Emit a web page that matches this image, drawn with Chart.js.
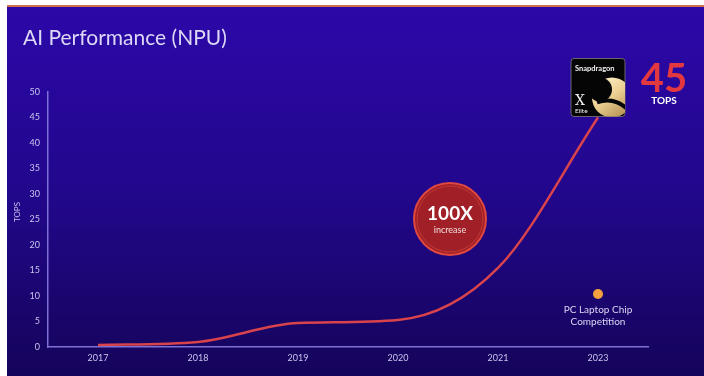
<!DOCTYPE html>
<html>
<head>
<meta charset="utf-8">
<script src="https://cdn.jsdelivr.net/npm/chart.js@4.4.1/dist/chart.umd.min.js"></script>
<style>
  html, body { margin: 0; padding: 0; background: #fff; }
  canvas { display: block; }
</style>
</head>
<body>
<canvas id="chart" width="704" height="376"></canvas>
<script>
const years = ['2017', '2018', '2019', '2020', '2021', '2023'];
const snapdragonTops = [0.4, 1, 4.7, 5.3, 15.5, 45];
const competitionTops = [null, null, null, null, null, 10.4];

const font = 'Lato, "Open Sans", sans-serif';
const tickColor = '#cbc4ee';
const axisColor = '#7d70d6';
const lineRed = '#d8434c';

// white page edge, orange rule and the blue slide behind the chart
const slideBackground = {
  id: 'slideBackground',
  beforeDraw(chart) {
    const { ctx, width, height } = chart;
    ctx.save();
    ctx.fillStyle = '#ffffff';
    ctx.fillRect(0, 0, width, height);
    const grad = ctx.createLinearGradient(0, 7, 0, height);
    grad.addColorStop(0, '#2c08a8');
    grad.addColorStop(0.5, '#22078c');
    grad.addColorStop(1, '#15045a');
    ctx.fillStyle = grad;
    ctx.fillRect(7, 7, width - 7, height - 7);
    ctx.fillStyle = '#d46f4e';
    ctx.fillRect(7, 5, width - 7, 2);
    ctx.restore();
  }
};

const decorations = {
  id: 'decorations',
  afterDatasetsDraw(chart) {
    const { ctx, scales: { x, y } } = chart;
    ctx.save();

    // title
    ctx.fillStyle = '#ddd8f6';
    ctx.font = '21px ' + font;
    ctx.textBaseline = 'alphabetic';
    ctx.fillText('AI Performance (NPU)', 23, 45);

    // y axis title
    ctx.save();
    ctx.translate(17, 212);
    ctx.rotate(-Math.PI / 2);
    ctx.textAlign = 'center';
    ctx.textBaseline = 'middle';
    ctx.font = '8px ' + font;
    ctx.fillStyle = tickColor;
    ctx.fillText('TOPS', 0, 0);
    ctx.restore();

    // 100X badge
    const bx = 450, by = 219;
    ctx.beginPath();
    ctx.arc(bx, by, 36, 0, Math.PI * 2);
    ctx.fillStyle = '#a11f26';
    ctx.fill();
    ctx.lineWidth = 2;
    ctx.strokeStyle = '#e0483f';
    ctx.stroke();
    ctx.beginPath();
    ctx.arc(bx, by, 33, 0, Math.PI * 2);
    ctx.lineWidth = 1;
    ctx.strokeStyle = '#c23a35';
    ctx.stroke();
    ctx.fillStyle = '#ffffff';
    ctx.textAlign = 'center';
    ctx.textBaseline = 'middle';
    ctx.font = 'bold 19px ' + font;
    ctx.fillText('100X', bx, by - 5);
    ctx.font = '9px ' + font;
    ctx.fillStyle = '#f1dede';
    ctx.fillText('increase', bx, by + 11);

    // Snapdragon X Elite chip above the last point
    const cx = x.getPixelForValue(5);
    const cy = y.getPixelForValue(45);
    const left = cx - 27, top = cy - 59, w = 54, h = 58;
    ctx.beginPath();
    ctx.roundRect(left, top, w, h, 3);
    ctx.fillStyle = '#050505';
    ctx.fill();
    ctx.lineWidth = 1;
    ctx.strokeStyle = '#6b6470';
    ctx.stroke();
    ctx.save();
    ctx.beginPath();
    ctx.roundRect(left, top, w, h, 3);
    ctx.clip();
    const gold = ctx.createLinearGradient(left + 26, top + 18, left + 54, top + 58);
    gold.addColorStop(0, '#fff4cc');
    gold.addColorStop(0.5, '#ecd093');
    gold.addColorStop(1, '#b48e50');
    ctx.beginPath();
    ctx.arc(left + 41, top + 39, 20, 0, Math.PI * 2);
    ctx.fillStyle = gold;
    ctx.fill();
    ctx.beginPath();
    ctx.arc(left + 29, top + 31, 12, 0, Math.PI * 2);
    ctx.fillStyle = '#050505';
    ctx.fill();
    ctx.beginPath();
    ctx.moveTo(left + 26, top + 44);
    ctx.quadraticCurveTo(left + 42, top + 38, left + 56, top + 50);
    ctx.lineWidth = 4;
    ctx.strokeStyle = '#050505';
    ctx.stroke();
    ctx.restore();
    ctx.fillStyle = '#f2f2f2';
    ctx.textAlign = 'left';
    ctx.textBaseline = 'alphabetic';
    ctx.font = 'bold 7.5px ' + font;
    ctx.fillText('Snapdragon', left + 4, top + 12);
    ctx.font = '14px "DejaVu Serif", serif';
    ctx.fillText('X', left + 4, top + 46);
    ctx.font = '6.5px ' + font;
    ctx.fillText('Elite', left + 4, top + 54);

    // 45 TOPS
    ctx.textAlign = 'center';
    ctx.fillStyle = '#e3383f';
    ctx.font = 'bold 40px ' + font;
    ctx.fillText('45', 664, 92);
    ctx.fillStyle = '#ffffff';
    ctx.font = 'bold 10px ' + font;
    ctx.fillText('TOPS', 664, 104);

    // competition label under the orange dot
    const px = x.getPixelForValue(5);
    const py = y.getPixelForValue(competitionTops[5]);
    ctx.fillStyle = '#dcd6f4';
    ctx.font = '10px ' + font;
    ctx.textBaseline = 'middle';
    ctx.fillText('PC Laptop Chip', px, py + 16);
    ctx.fillText('Competition', px, py + 28);

    ctx.restore();
  }
};

new Chart(document.getElementById('chart'), {
  type: 'line',
  data: {
    labels: years,
    datasets: [
      {
        label: 'Snapdragon X Elite',
        data: snapdragonTops,
        borderColor: lineRed,
        borderWidth: 2.5,
        pointRadius: 0,
        cubicInterpolationMode: 'monotone',
        order: 2
      },
      {
        label: 'PC Laptop Chip Competition',
        data: competitionTops,
        showLine: false,
        pointRadius: 5,
        pointBackgroundColor: '#f5a23e',
        pointBorderWidth: 0,
        order: 1
      }
    ]
  },
  options: {
    responsive: false,
    devicePixelRatio: 1,
    animation: false,
    layout: { padding: { top: 92, right: 56, bottom: 0, left: 0 } },
    plugins: {
      legend: { display: false },
      tooltip: { enabled: false }
    },
    scales: {
      x: {
        offset: true,
        grid: { display: false, drawTicks: false },
        border: { color: axisColor, width: 1.5 },
        ticks: { color: tickColor, font: { family: font, size: 9 }, padding: 6 },
        afterFit: (s) => { s.height = 29; }
      },
      y: {
        min: 0,
        max: 50,
        grid: { display: false, drawTicks: false },
        border: { color: axisColor, width: 1.5 },
        ticks: { stepSize: 5, color: tickColor, font: { family: font, size: 9 }, padding: 8 },
        afterFit: (s) => { s.width = 48; }
      }
    }
  },
  plugins: [slideBackground, decorations]
});
</script>
</body>
</html>
